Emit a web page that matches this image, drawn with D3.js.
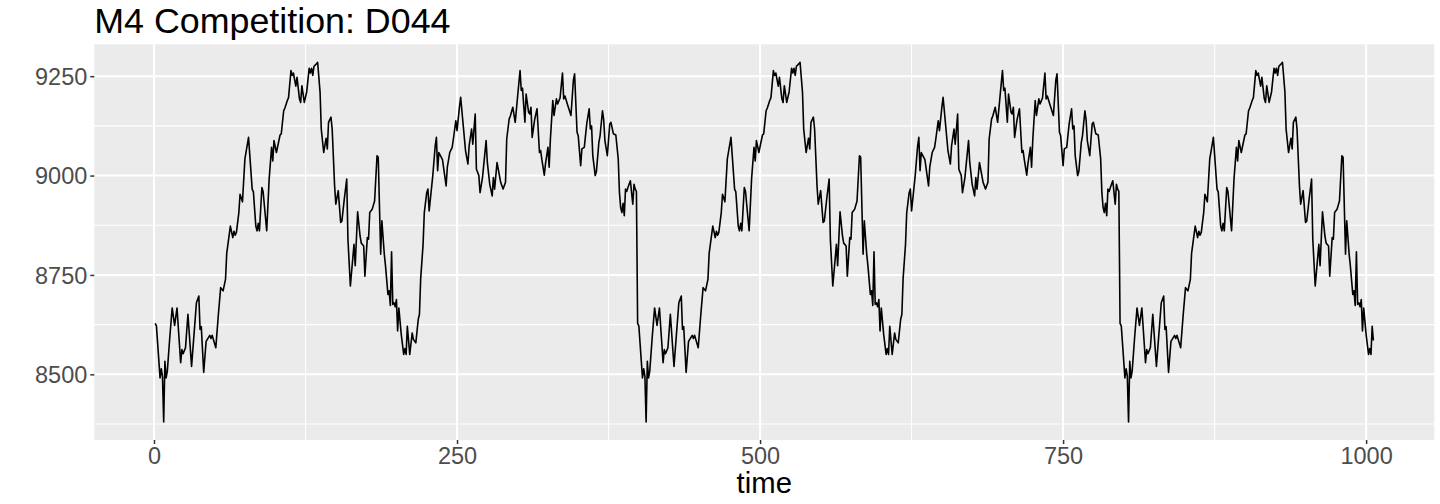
<!DOCTYPE html>
<html>
<head>
<meta charset="utf-8">
<script src="https://cdn.jsdelivr.net/npm/d3@7"></script>
<style>
  html, body { margin: 0; padding: 0; background: #ffffff; }
  svg { display: block; font-family: "Liberation Sans", Arial, Helvetica, sans-serif; }
</style>
</head>
<body>
<svg id="chart" width="1440" height="504"></svg>
<script>
// ---- Data ----
const chartTitle = "M4 Competition: D044";
const xAxisTitle = "time";
const xTicks = [0, 250, 500, 750, 1000];
const xMinorTicks = [125, 375, 625, 875];
const yTicks = [8500, 8750, 9000, 9250];
const yMinorTicks = [8375, 8625, 8875, 9125];

// Segment 1 (time 1 .. 398)
const time1 = [1,2,5,6,7,8,9,10,11,13,15,17,19,22,23,24,26,28,31,33,35,37,38,39,41,43,46,47,48,51,53,55,57,59,60,63,65,66,67,68,70,71,73,75,78,81,82,84,85,86,87,89,90,93,95,97,98,99,101,104,105,107,108,110,111,113,114,115,117,118,120,121,122,124,126,128,129,130,131,132,134,135,137,138,140,142,143,144,146,147,149,150,152,154,155,157,159,160,162,165,166,168,170,171,173,174,176,177,178,180,182,184,185,187,188,190,191,193,194,195,196,197,198,199,200,201,202,204,206,207,208,209,211,213,214,216,218,219,220,222,223,225,226,227,230,232,233,234,235,238,241,242,244,246,247,249,250,252,253,255,257,259,260,262,263,265,266,268,269,271,274,275,277,279,280,281,283,285,286,288,290,291,293,294,296,298,300,302,303,304,306,307,309,310,311,312,314,316,318,319,320,322,323,325,326,327,329,330,332,333,335,337,338,339,341,344,346,347,349,350,352,353,355,357,359,360,361,362,364,365,367,368,370,371,372,374,376,377,379,381,383,384,385,386,387,388,389,390,391,393,395,396,397,398];
const value1 = [8628,8622,8491,8514,8495,8380,8533,8491,8508,8592,8667,8623,8667,8529,8562,8552,8567,8651,8520,8600,8680,8697,8613,8620,8505,8583,8598,8590,8598,8567,8646,8718,8710,8739,8804,8873,8844,8860,8850,8857,8907,8953,8934,9042,9096,8966,8959,8873,8861,8880,8861,8970,8960,8861,8991,9071,9037,9088,9058,9102,9105,9163,9170,9189,9196,9264,9252,9258,9225,9247,9193,9184,9226,9184,9211,9270,9258,9270,9252,9275,9281,9285,9210,9117,9058,9094,9067,9134,9147,9117,8974,8928,8962,8882,8885,8941,8991,8840,8722,8827,8773,8909,8848,8830,8823,8747,8844,8840,8907,8915,8936,9050,9046,8802,8886,8802,8773,8701,8710,8673,8808,8676,8680,8670,8688,8609,8667,8600,8550,8565,8550,8621,8550,8604,8588,8579,8638,8651,8740,8827,8907,8957,8966,8911,9000,9075,9096,9012,9058,9040,8974,9021,9058,9071,9092,9138,9113,9172,9197,9130,9063,9029,9075,9117,9079,9155,9016,9000,8957,8995,9088,9033,8978,8949,8995,8966,9033,9000,8983,8966,8983,9092,9142,9150,9172,9134,9200,9264,9214,9220,9134,9205,9160,9155,9172,9096,9140,9168,9058,9063,9040,9001,9030,9071,9021,9090,9189,9151,9193,9180,9195,9258,9193,9200,9180,9151,9240,9256,9109,9100,9025,9067,9071,9130,9168,9117,9125,9050,9000,9010,9083,9100,9163,9140,9088,9050,9130,9134,9105,9102,9042,8957,8920,8907,8930,8899,8966,8960,8970,8987,8928,8978,8966,8960];

// Segment 2 (time 399 .. 796)
const time2 = [399,400,403,404,405,406,407,408,409,411,413,415,417,420,421,422,424,426,429,431,433,435,436,437,439,441,444,445,446,449,451,453,455,457,458,461,463,464,465,466,468,469,471,473,476,479,480,482,483,484,485,487,488,491,493,495,496,497,499,502,503,505,506,508,509,511,512,513,515,516,518,519,520,522,524,526,527,528,529,530,532,533,535,536,538,540,541,542,544,545,547,548,550,552,553,555,557,558,560,563,564,566,568,569,571,572,574,575,576,578,580,582,583,585,586,588,589,591,592,593,594,595,596,597,598,599,600,602,604,605,606,607,609,611,612,614,616,617,618,620,621,623,624,625,628,630,631,632,633,636,639,640,642,644,645,647,648,650,651,653,655,657,658,660,661,663,664,666,667,669,672,673,675,677,678,679,681,683,684,686,688,689,691,692,694,696,698,700,701,702,704,705,707,708,709,710,712,714,716,717,718,720,721,723,724,725,727,728,730,731,733,735,736,737,739,742,744,745,747,748,750,751,753,755,757,758,759,760,762,763,765,766,768,769,770,772,774,775,777,779,781,782,783,784,785,786,787,788,789,791,793,794,795,796];
const value2 = [8628,8622,8491,8514,8495,8380,8533,8491,8508,8592,8667,8623,8667,8529,8562,8552,8567,8651,8520,8600,8680,8697,8613,8620,8505,8583,8598,8590,8598,8567,8646,8718,8710,8739,8804,8873,8844,8860,8850,8857,8907,8953,8934,9042,9096,8966,8959,8873,8861,8880,8861,8970,8960,8861,8991,9071,9037,9088,9058,9102,9105,9163,9170,9189,9196,9264,9252,9258,9225,9247,9193,9184,9226,9184,9211,9270,9258,9270,9252,9275,9281,9285,9210,9117,9058,9094,9067,9134,9147,9117,8974,8928,8962,8882,8885,8941,8991,8840,8722,8827,8773,8909,8848,8830,8823,8747,8844,8840,8907,8915,8936,9050,9046,8802,8886,8802,8773,8701,8710,8673,8808,8676,8680,8670,8688,8609,8667,8600,8550,8565,8550,8621,8550,8604,8588,8579,8638,8651,8740,8827,8907,8957,8966,8911,9000,9075,9096,9012,9058,9040,8974,9021,9058,9071,9092,9138,9113,9172,9197,9130,9063,9029,9075,9117,9079,9155,9016,9000,8957,8995,9088,9033,8978,8949,8995,8966,9033,9000,8983,8966,8983,9092,9142,9150,9172,9134,9200,9264,9214,9220,9134,9205,9160,9155,9172,9096,9140,9168,9058,9063,9040,9001,9030,9071,9021,9090,9189,9151,9193,9180,9195,9258,9193,9200,9180,9151,9240,9256,9109,9100,9025,9067,9071,9130,9168,9117,9125,9050,9000,9010,9083,9100,9163,9140,9088,9050,9130,9134,9105,9102,9042,8957,8920,8907,8930,8899,8966,8960,8970,8987,8928,8978,8966,8960];

// Segment 3 (time 797 .. 1006)
const time3 = [797,798,801,802,803,804,805,806,807,809,811,813,815,818,819,820,822,824,827,829,831,833,834,835,837,839,842,843,844,847,849,851,853,855,856,859,861,862,863,864,866,867,869,871,874,877,878,880,881,882,883,885,886,889,891,893,894,895,897,900,901,903,904,906,907,909,910,911,913,914,916,917,918,920,922,924,925,926,927,928,930,931,933,934,936,938,939,940,942,943,945,946,948,950,951,953,955,956,958,961,962,964,966,967,969,970,972,973,974,976,978,980,981,983,984,986,987,989,990,991,992,993,994,995,996,997,998,1000,1002,1003,1004,1005,1006];
const value3 = [8628,8622,8491,8514,8495,8380,8533,8491,8508,8592,8667,8623,8667,8529,8562,8552,8567,8651,8520,8600,8680,8697,8613,8620,8505,8583,8598,8590,8598,8567,8646,8718,8710,8739,8804,8873,8844,8860,8850,8857,8907,8953,8934,9042,9096,8966,8959,8873,8861,8880,8861,8970,8960,8861,8991,9071,9037,9088,9058,9102,9105,9163,9170,9189,9196,9264,9252,9258,9225,9247,9193,9184,9226,9184,9211,9270,9258,9270,9252,9275,9281,9285,9210,9117,9058,9094,9067,9134,9147,9117,8974,8928,8962,8882,8885,8941,8991,8840,8722,8827,8773,8909,8848,8830,8823,8747,8844,8840,8907,8915,8936,9050,9046,8802,8886,8802,8773,8701,8710,8673,8808,8676,8680,8670,8688,8609,8667,8600,8550,8565,8550,8621,8585];

// ---- Build series table ----
const series = [];
[[time1, value1], [time2, value2], [time3, value3]].forEach(([ts, vs]) => {
  ts.forEach((t, i) => series.push({ t: t, v: vs[i] }));
});

// ---- Layout ----
const svg = d3.select("#chart");
const panel = { left: 94.3, right: 1434.3, top: 44.3, bottom: 440 };

function expand(ext) {
  const pad = (ext[1] - ext[0]) * 0.05;
  return [ext[0] - pad, ext[1] + pad];
}

const x = d3.scaleLinear()
  .domain(expand(d3.extent(series, d => d.t)))
  .range([panel.left, panel.right]);
const y = d3.scaleLinear()
  .domain(expand(d3.extent(series, d => d.v)))
  .range([panel.bottom, panel.top]);

// Panel background
svg.append("rect")
  .attr("x", panel.left).attr("y", panel.top)
  .attr("width", panel.right - panel.left)
  .attr("height", panel.bottom - panel.top)
  .attr("fill", "#EBEBEB");

const grid = svg.append("g");
// minor grid
grid.selectAll("line.ymin").data(yMinorTicks).enter().append("line")
  .attr("x1", panel.left).attr("x2", panel.right)
  .attr("y1", d => y(d)).attr("y2", d => y(d))
  .attr("stroke", "#ffffff").attr("stroke-width", 1.1);
grid.selectAll("line.xmin").data(xMinorTicks).enter().append("line")
  .attr("y1", panel.top).attr("y2", panel.bottom)
  .attr("x1", d => x(d)).attr("x2", d => x(d))
  .attr("stroke", "#ffffff").attr("stroke-width", 1.1);
// major grid
grid.selectAll("line.ymaj").data(yTicks).enter().append("line")
  .attr("x1", panel.left).attr("x2", panel.right)
  .attr("y1", d => y(d)).attr("y2", d => y(d))
  .attr("stroke", "#ffffff").attr("stroke-width", 2.1);
grid.selectAll("line.xmaj").data(xTicks).enter().append("line")
  .attr("y1", panel.top).attr("y2", panel.bottom)
  .attr("x1", d => x(d)).attr("x2", d => x(d))
  .attr("stroke", "#ffffff").attr("stroke-width", 2.1);

// Series line
const line = d3.line().x(d => x(d.t)).y(d => y(d.v));
svg.append("path")
  .datum(series)
  .attr("d", line)
  .attr("fill", "none")
  .attr("stroke", "#000000")
  .attr("stroke-width", 1.6)
  .attr("stroke-linejoin", "round");

// Axes
const xAxis = d3.axisBottom(x).tickValues(xTicks).tickSize(4).tickPadding(5).tickFormat(d3.format("d"));
const yAxis = d3.axisLeft(y).tickValues(yTicks).tickSize(4).tickPadding(3).tickFormat(d3.format("d"));

const gx = svg.append("g").attr("transform", `translate(0,${panel.bottom})`).call(xAxis);
const gy = svg.append("g").attr("transform", `translate(${panel.left},0)`).call(yAxis);
[gx, gy].forEach(g => {
  g.select(".domain").remove();
  g.selectAll(".tick line").attr("stroke", "#333333").attr("stroke-width", 1.5);
  g.selectAll(".tick text")
    .attr("fill", "#4D4D4D")
    .style("font-size", "23.5px")
    .style("font-family", "'Liberation Sans', Arial, sans-serif");
});
gx.selectAll(".tick text").attr("dy", null).attr("y", 23.5).attr("dominant-baseline", "alphabetic");
gy.selectAll(".tick text").attr("dy", "0.35em");

// Axis title
svg.append("text")
  .attr("x", (panel.left + panel.right) / 2)
  .attr("y", 493)
  .attr("text-anchor", "middle")
  .attr("fill", "#000000")
  .style("font-size", "29.3px")
  .text(xAxisTitle);

// Chart title
svg.append("text")
  .attr("x", panel.left)
  .attr("y", 32.7)
  .attr("fill", "#000000")
  .style("font-size", "35.8px")
  .text(chartTitle);
</script>
</body>
</html>
